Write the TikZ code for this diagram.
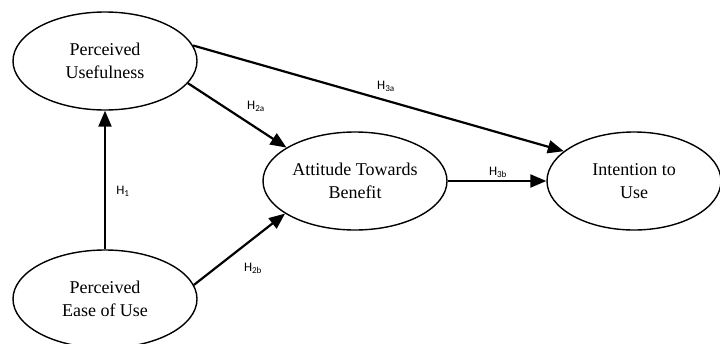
\documentclass[tikz,border=0pt]{standalone}
\usepackage{fontspec}
\setmainfont{Liberation Serif}
\newfontfamily\hypfont{Carlito}
\usetikzlibrary{shapes.geometric,arrows.meta}

\begin{document}
\begin{tikzpicture}[x=1pt,y=-1pt,>={Triangle[length=16pt,width=13pt]},
		construct/.style={shape=ellipse,draw,line width=1.4pt,inner sep=0pt,
			minimum width=184pt,minimum height=98pt,align=center,
			font=\fontsize{18}{23}\selectfont},
		path/.style={->,line width=2.2pt},
		hyp/.style={font=\hypfont\fontsize{13}{15}\selectfont,inner sep=0pt}]
		\useasboundingbox (0,0) rectangle (720,343);
		% create the nodes.
		\node[construct] (pu) at (105,61) {Perceived\\Usefulness};
		\node[construct] (peou) at (105,299) {Perceived\\Ease of Use};
		\node[construct] (atb) at (355,181) {Attitude Towards\\Benefit};
		\node[construct,minimum width=174pt] (itu) at (634,181) {Intention to\\Use};

		% hypothesis labels
		\node[hyp] (h1) at (123,191) {H\textsubscript{1}};
		\node[hyp] (h2a) at (256,106) {H\textsubscript{2a}};
		\node[hyp] (h2b) at (253,268) {H\textsubscript{2b}};
		\node[hyp] (h3a) at (386,86) {H\textsubscript{3a}};
		\node[hyp] (h3b) at (498,172) {H\textsubscript{3b}};

		% connect the nodes
		\draw[path] (peou.north) -- (pu.south);
		\draw[path] (pu.-15) -- (atb.154);
		\draw[path] (peou.9) -- (atb.205);
		\draw[path] (pu.10) -- (itu.157);
		\draw[path] (atb) -- (itu);
	\end{tikzpicture}
\end{document}
